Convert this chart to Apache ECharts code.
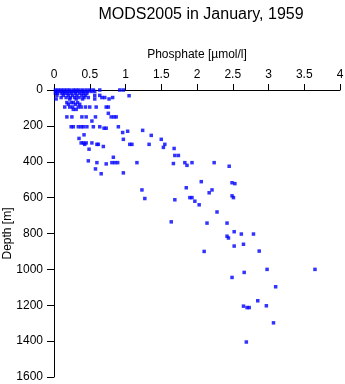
<!DOCTYPE html>
<html>
<head>
<meta charset="utf-8">
<script src="https://cdn.jsdelivr.net/npm/echarts@6/dist/echarts.min.js"></script>
<style>
  html, body { margin: 0; padding: 0; background: #fff; }
  #chart { width: 345px; height: 384px; }
</style>
</head>
<body>
<div id="chart"></div>
<script>
// Phosphate profile, MODS2005 casts from January 1959.
// Paired arrays: phosphate[i] (µmol/l) is measured at depth[i] (m).
const phosphate = [
  0.02, 0.06, 0.10, 0.14, 0.18, 0.22, 0.27, 0.31, 0.35, 0.40, 0.45, 0.50, 0.55, 0.64, 0.92, 0.97,
  0.03, 0.08, 0.12, 0.16, 0.21, 0.25, 0.29, 0.33, 0.38, 0.42, 0.47, 0.52, 0.57,
  0.02, 0.05, 0.11, 0.15, 0.19, 0.24, 0.30, 0.36, 0.41, 0.46,
  1.05,
  0.04, 0.13, 0.20, 0.26, 0.32, 0.39, 0.44, 0.57, 0.64,
  0.10, 0.17, 0.23, 0.29, 0.35, 0.42, 0.48, 0.67, 0.71, 0.82,
  0.03, 0.22, 0.31, 0.40, 0.57, 0.77,
  0.18, 0.24, 0.27, 0.33,
  0.20, 0.30, 0.36,
  0.15, 0.22, 0.26, 0.34, 0.38, 0.44, 0.50, 0.59, 0.73, 0.76,
  0.27, 0.31,
  0.76,
  0.18, 0.25, 0.39, 0.45, 0.58, 0.80, 0.84, 0.87,
  0.53,
  0.24, 0.27, 0.34, 0.38, 0.41, 0.46, 0.55, 0.64, 0.90,
  0.70, 0.73,
  1.03, 1.24, 0.96, 0.42, 1.36, 0.35, 0.97, 1.50,
  0.38, 0.41, 0.45, 0.53,
  0.43, 0.60, 0.62, 1.06, 1.09, 1.33, 1.55,
  0.69, 1.53, 1.68, 0.49, 1.69, 1.74, 0.83, 0.48,
  0.60, 0.81, 0.85, 0.89, 1.16, 1.83, 1.93, 2.24,
  1.67, 0.73, 1.86, 2.45, 0.58, 0.97, 0.66,
  2.06, 2.49, 2.53, 1.85, 1.23, 2.21, 2.17, 2.49, 1.90, 1.93, 2.51, 1.27, 1.69, 1.97, 2.03, 2.28,
  1.64, 2.14, 2.42, 2.52, 2.62, 2.79, 2.42, 2.44, 2.65, 2.52, 2.87, 2.10,
  2.98, 3.65, 2.66, 2.49, 3.10, 2.85, 2.97, 2.65, 2.70, 2.73, 3.07, 2.69
];
const depth = [
  0, 0, 0, 0, 0, 0, 0, 0, 0, 0, 0, 0, 0, 0, 0, 0,
  8, 8, 8, 8, 8, 8, 8, 8, 8, 8, 8, 8, 8,
  18, 18, 18, 18, 18, 18, 18, 18, 18, 18,
  32,
  30, 30, 30, 30, 30, 30, 30, 30, 30,
  42, 42, 42, 42, 42, 42, 42, 42, 42, 42,
  50, 50, 50, 50, 50, 50,
  70, 70, 70, 70,
  80, 80, 80,
  95, 95, 95, 95, 95, 95, 95, 95, 95, 95,
  108, 108,
  130,
  150, 150, 150, 150, 150, 150, 150, 150,
  173,
  205, 205, 205, 205, 205, 205, 205, 205, 205,
  213, 213,
  230, 225, 237, 250, 253, 270, 275, 275,
  295, 295, 295, 295,
  303, 303, 303, 303, 303, 303, 303,
  315, 320, 326, 330, 365, 365, 375, 395,
  405, 405, 405, 405, 405, 405, 405, 405,
  410, 412, 420, 425, 440, 462, 467,
  511, 517, 522, 545, 557, 557, 573, 590, 600, 600, 600, 605, 612, 620, 640, 680,
  735, 742, 742, 790, 803, 803, 815, 825, 860, 870, 898, 900,
  1000, 1000, 1017, 1045, 1097, 1175, 1203, 1205, 1213, 1213, 1298, 1405
];

const titleText = 'MODS2005 in January, 1959';
const xName = 'Phosphate [µmol/l]';
const yName = 'Depth [m]';

const font = '"Liberation Sans", Arial, Helvetica, sans-serif';
const points = phosphate.map((p, i) => [p, depth[i]]);

const chart = echarts.init(document.getElementById('chart'), null, { renderer: 'canvas' });
chart.setOption({
  animation: false,
  backgroundColor: '#fff',
  title: {
    text: titleText,
    left: 196,
    textAlign: 'center',
    top: 2,
    textStyle: { fontFamily: font, fontSize: 16, fontWeight: 'normal', color: '#000' }
  },
  grid: { left: 54, top: 90, width: 286, height: 287, outerBoundsMode: 'none' },
  xAxis: {
    type: 'value',
    position: 'top',
    min: 0, max: 4, interval: 0.5,
    name: xName,
    nameLocation: 'middle',
    nameGap: 29,
    nameMoveOverlap: false,
    nameTextStyle: { fontFamily: font, fontSize: 12, color: '#000' },
    axisLine: { show: true, onZero: false, lineStyle: { color: '#000', width: 1 } },
    axisTick: { show: true, inside: false, length: 6, lineStyle: { color: '#000' } },
    axisLabel: { fontFamily: font, fontSize: 12, color: '#000', margin: 9 },
    splitLine: { show: false }
  },
  yAxis: {
    type: 'value',
    inverse: true,
    min: 0, max: 1600, interval: 200,
    name: yName,
    nameLocation: 'middle',
    nameGap: 40,
    nameRotate: 90,
    nameMoveOverlap: false,
    nameTextStyle: { fontFamily: font, fontSize: 12, color: '#000' },
    axisLine: { show: true, onZero: false, lineStyle: { color: '#000', width: 1 } },
    axisTick: { show: true, inside: false, length: 7, lineStyle: { color: '#000' } },
    axisLabel: {
      fontFamily: font, fontSize: 12, color: '#000', margin: 11,
      formatter: (v) => String(v)
    },
    splitLine: { show: false }
  },
  series: [{
    type: 'scatter',
    data: points,
    symbol: 'rect',
    symbolSize: 3.5,
    itemStyle: { color: '#0000ff' },
    emphasis: { disabled: true }
  }]
});
</script>
</body>
</html>
